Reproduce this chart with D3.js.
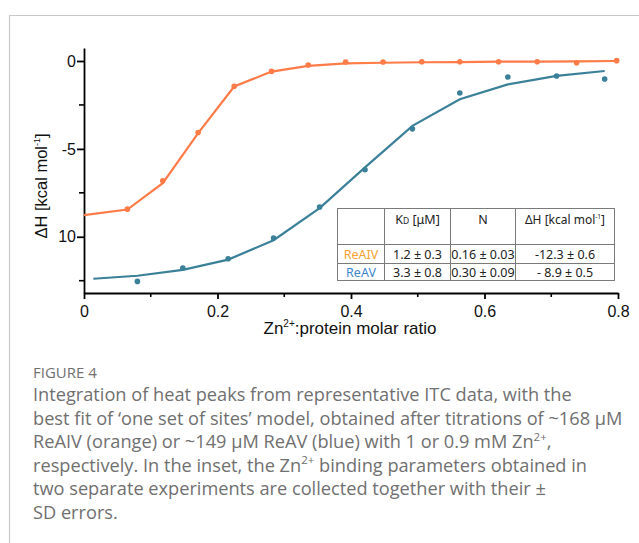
<!DOCTYPE html>
<html lang="en">
<head>
    <meta charset="UTF-8">
    <title>ITC titration, Zn2+ binding</title>
    <script src="https://d3js.org/d3.v7.min.js"></script>
    <style>
        body {
            margin: 0;
            background: #fff;
        }

        svg {
            display: block;
        }

        .axis text {
            font-family: "Liberation Sans", Arial, sans-serif;
            font-size: 16px;
            fill: #111;
        }

        .inset text {
            font-family: "Noto Sans", sans-serif;
            font-size: 12.5px;
            fill: #222;
        }

        .caption {
            font-family: "Open Sans", Lato, sans-serif;
            fill: #707070;
        }
    </style>
</head>
<body>

<div class="viz"></div>

<script>
    // ReAIV (orange) – integrated heats and fitted curve
    const orangeRatio = [0.065, 0.118, 0.171, 0.225, 0.281, 0.336, 0.392, 0.448, 0.506, 0.563, 0.621, 0.679, 0.738, 0.798];
    const orangeHeat = [-8.43, -6.82, -4.07, -1.44, -0.59, -0.23, -0.06, -0.06, -0.04, -0.04, -0.04, -0.04, -0.10, 0.02];
    const orangeFitRatio = [0.0, 0.065, 0.118, 0.171, 0.225, 0.281, 0.336, 0.392, 0.448, 0.506, 0.563, 0.621, 0.679, 0.738, 0.798];
    const orangeFitHeat = [-8.77, -8.45, -6.95, -4.1, -1.45, -0.6, -0.28, -0.14, -0.1, -0.07, -0.06, -0.04, -0.03, -0.02, 0.0];

    // ReAV (blue)
    const blueRatio = [0.080, 0.148, 0.216, 0.284, 0.353, 0.421, 0.492, 0.563, 0.635, 0.708, 0.780];
    const blueHeat = [-12.54, -11.78, -11.25, -10.07, -8.31, -6.19, -3.86, -1.82, -0.91, -0.85, -1.02];
    const blueFitRatio = [0.014, 0.080, 0.148, 0.216, 0.284, 0.353, 0.421, 0.492, 0.563, 0.635, 0.708, 0.780];
    const blueFitHeat = [-12.39, -12.22, -11.88, -11.3, -10.2, -8.37, -6.05, -3.69, -2.18, -1.33, -0.85, -0.57];

    // axis ticks
    const xMajorTicks = [0, 0.2, 0.4, 0.6, 0.8];
    const xMinorTicks = [0.1, 0.3, 0.5, 0.7];
    const yMajorTicks = [0, -5, -10];
    const yTickLabels = ["0", "-5", "10"];
    const yMinorTicks = [-2.5, -7.5, -12.5];

    // inset table
    const tableSeries = ["ReAIV", "ReAV"];
    const tableKd = ["1.2 ± 0.3", "3.3 ± 0.8"];
    const tableN = ["0.16 ± 0.03", "0.30 ± 0.09"];
    const tableDH = ["-12.3 ± 0.6", "- 8.9 ± 0.5"];

    const captionLines = [
        "Integration of heat peaks from representative ITC data, with the",
        "best fit of \u2018one set of sites\u2019 model, obtained after titrations of ~168 \u03bcM",
        "ReAIV (orange) or ~149 \u03bcM ReAV (blue) with 1 or 0.9 mM Zn|2+|,",
        "respectively. In the inset, the Zn|2+| binding parameters obtained in",
        "two separate experiments are collected together with their \u00b1",
        "SD errors."
    ];

    const width = 639, height = 543;
    const orange = "#ff7b47", blue = "#3b8099";

    const svg = d3.select('.viz').append('svg')
        .attr('width', width)
        .attr('height', height);

    // page frame
    svg.append('path')
        .attr('d', `M${width},15.5 H9.5 V${height}`)
        .attr('fill', 'none')
        .attr('stroke', '#c9c9c9')
        .attr('stroke-width', 1.2);

    const x = d3.scaleLinear().domain([0, 0.8]).range([84, 618]);
    const y = d3.scaleLinear().domain([-13.2, 0.74]).range([293, 48]);

    // x axis
    const xAxis = svg.append('g').attr('class', 'axis').attr('transform', `translate(0,${y.range()[0]})`);
    xAxis.call(d3.axisBottom(x).tickValues(xMajorTicks).tickSize(6).tickSizeOuter(0)
        .tickFormat(d => d === 0 ? "0" : d3.format(".1f")(d)));
    xAxis.selectAll('.minor')
        .data(xMinorTicks)
        .enter().append('line')
        .attr('class', 'minor')
        .attr('x1', d => x(d)).attr('x2', d => x(d))
        .attr('y1', 0).attr('y2', 4)
        .attr('stroke', '#000').attr('stroke-width', 1.6);
    xAxis.selectAll('.tick text').attr('y', 13);

    // y axis
    const yAxis = svg.append('g').attr('class', 'axis').attr('transform', `translate(${x.range()[0]},0)`);
    yAxis.call(d3.axisLeft(y).tickValues(yMajorTicks).tickSize(7).tickSizeOuter(0)
        .tickFormat((d, i) => yTickLabels[i]));
    yAxis.selectAll('.minor')
        .data(yMinorTicks)
        .enter().append('line')
        .attr('class', 'minor')
        .attr('x1', -5).attr('x2', 0)
        .attr('y1', d => y(d)).attr('y2', d => y(d))
        .attr('stroke', '#000').attr('stroke-width', 1.6);
    yAxis.selectAll('.tick text').attr('x', -8);

    svg.selectAll('.axis .domain, .axis .tick line').attr('stroke', '#000').attr('stroke-width', 1.8);

    // axis titles
    const xTitle = svg.append('text')
        .attr('x', 350).attr('y', 334)
        .attr('text-anchor', 'middle')
        .style('font-family', '"Liberation Sans", Arial, sans-serif')
        .style('font-size', '17px')
        .attr('fill', '#111');
    xTitle.append('tspan').text('Zn');
    xTitle.append('tspan').text('2+').attr('dy', -7).style('font-size', '10px');
    xTitle.append('tspan').text(':protein molar ratio').attr('dy', 7);

    const yTitle = svg.append('text')
        .attr('transform', 'translate(47,186) rotate(-90)')
        .attr('text-anchor', 'middle')
        .style('font-family', '"Liberation Sans", Arial, sans-serif')
        .style('font-size', '16.5px')
        .attr('fill', '#111');
    yTitle.append('tspan').text('\u0394H [kcal mol');
    yTitle.append('tspan').text('-1').attr('dy', -7).style('font-size', '9px');
    yTitle.append('tspan').text(']').attr('dy', 7);

    // curves
    const line = d3.line().x(d => x(d[0])).y(d => y(d[1]));

    function drawSeries(fitX, fitY, ptX, ptY, color) {
        svg.append('path')
            .datum(d3.zip(fitX, fitY))
            .attr('d', line)
            .attr('fill', 'none')
            .attr('stroke', color)
            .attr('stroke-width', 2.2);
        svg.append('g').selectAll('circle')
            .data(d3.zip(ptX, ptY))
            .enter().append('circle')
            .attr('cx', d => x(d[0]))
            .attr('cy', d => y(d[1]))
            .attr('r', 2.8)
            .attr('fill', color);
    }

    drawSeries(orangeFitRatio, orangeFitHeat, orangeRatio, orangeHeat, orange);
    drawSeries(blueFitRatio, blueFitHeat, blueRatio, blueHeat, blue);

    // inset table
    const colEdges = [337.5, 384.5, 450.5, 515.5, 614.5];
    const rowEdges = [208.5, 244.5, 263.5, 280.5];
    const inset = svg.append('g').attr('class', 'inset');

    inset.append('rect')
        .attr('x', colEdges[0]).attr('y', rowEdges[0])
        .attr('width', colEdges[4] - colEdges[0])
        .attr('height', rowEdges[3] - rowEdges[0])
        .attr('fill', '#fff')
        .attr('stroke', '#7a7a7a');
    inset.selectAll('.vline')
        .data(colEdges.slice(1, 4))
        .enter().append('line')
        .attr('x1', d => d).attr('x2', d => d)
        .attr('y1', rowEdges[0]).attr('y2', rowEdges[3])
        .attr('stroke', '#7a7a7a');
    inset.selectAll('.hline')
        .data(rowEdges.slice(1, 3))
        .enter().append('line')
        .attr('x1', colEdges[0]).attr('x2', colEdges[4])
        .attr('y1', d => d).attr('y2', d => d)
        .attr('stroke', '#7a7a7a');

    const colMid = i => (colEdges[i] + colEdges[i + 1]) / 2;

    const kdHead = inset.append('text').attr('x', colMid(1)).attr('y', 224).attr('text-anchor', 'middle');
    kdHead.append('tspan').text('K');
    kdHead.append('tspan').text('D').style('font-size', '8.5px');
    kdHead.append('tspan').text(' [\u03bcM]');
    inset.append('text').attr('x', colMid(2)).attr('y', 224).attr('text-anchor', 'middle').text('N');
    const dhHead = inset.append('text').attr('x', colMid(3)).attr('y', 224).attr('text-anchor', 'middle')
        .style('font-size', '12px');
    dhHead.append('tspan').text('\u0394H [kcal mol');
    dhHead.append('tspan').text('-1').attr('dy', -5).style('font-size', '6.5px');
    dhHead.append('tspan').text(']').attr('dy', 5);

    const seriesColor = ["#f5a234", "#3d86cc"];
    tableSeries.forEach((name, i) => {
        const yy = (rowEdges[i + 1] + rowEdges[i + 2]) / 2 + 4.5;
        inset.append('text').attr('x', colMid(0)).attr('y', yy).attr('text-anchor', 'middle')
            .style('fill', seriesColor[i]).text(name);
        inset.append('text').attr('x', colMid(1)).attr('y', yy).attr('text-anchor', 'middle').text(tableKd[i]);
        inset.append('text').attr('x', colMid(2)).attr('y', yy).attr('text-anchor', 'middle').text(tableN[i]);
        inset.append('text').attr('x', colMid(3)).attr('y', yy).attr('text-anchor', 'middle').text(tableDH[i]);
    });

    // caption
    svg.append('text')
        .attr('class', 'caption')
        .attr('x', 33).attr('y', 378)
        .style('font-size', '15px')
        .text('FIGURE 4');

    captionLines.forEach((ln, i) => {
        const t = svg.append('text')
            .attr('class', 'caption')
            .attr('x', 33).attr('y', 401 + i * 23.6)
            .style('font-size', '18.2px');
        ln.split('|').forEach((part, j) => {
            const ts = t.append('tspan').text(part);
            if (j % 2 === 1) ts.attr('dy', -7.5).style('font-size', '11.5px');
            else if (j > 0) ts.attr('dy', 7.5);
        });
    });
</script>

</body>
</html>
